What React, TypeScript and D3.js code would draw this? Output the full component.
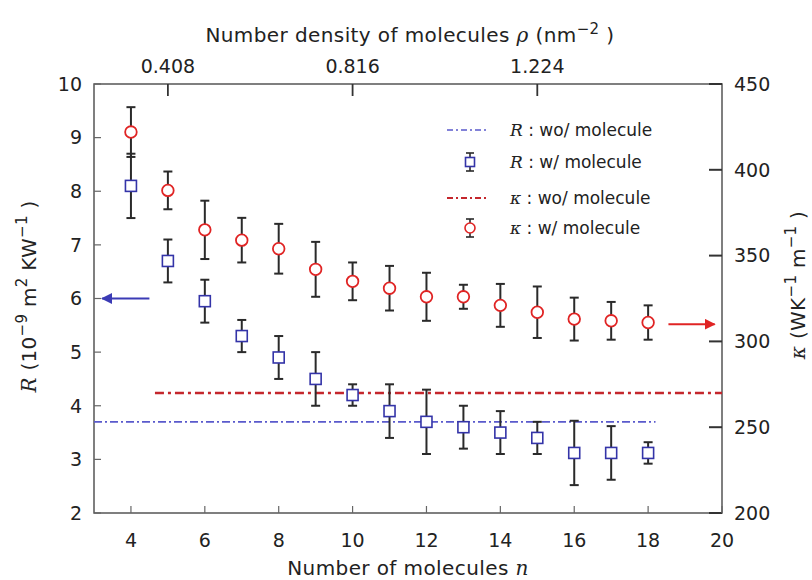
import React from "react";
import * as d3 from "d3";

const nValues = [4, 5, 6, 7, 8, 9, 10, 11, 12, 13, 14, 15, 16, 17, 18];
const rValues = [8.1, 6.7, 5.95, 5.3, 4.9, 4.5, 4.2, 3.9, 3.7, 3.6, 3.5, 3.4, 3.12, 3.12, 3.12];
const rErrors = [0.6, 0.4, 0.4, 0.3, 0.4, 0.5, 0.2, 0.5, 0.6, 0.4, 0.4, 0.3, 0.6, 0.5, 0.2];
const kValues = [422, 388, 365, 359, 354, 342, 335, 331, 326, 326, 321, 317, 313, 312, 311];
const kErrors = [14.5, 11, 17, 13, 14.5, 16, 11, 13, 14, 7, 12.5, 15, 12.5, 11, 10];
const rNoMolecule = 3.7;
const kNoMolecule = 270;
const leftTicks = [2, 3, 4, 5, 6, 7, 8, 9, 10];
const rightTicks = [200, 250, 300, 350, 400, 450];
const bottomTicks = [4, 6, 8, 10, 12, 14, 16, 18, 20];
const topTickN = [5, 10, 15];
const topTickLabels = ["0.408", "0.816", "1.224"];

const W = 812, H = 580;
const X0 = 94, X1 = 722, Y0 = 84, Y1 = 513;
const FONT = "'DejaVu Sans', sans-serif";
const SERIF = "'DejaVu Serif', serif";

export default function App() {
  const x = d3.scaleLinear().domain([3, 20]).range([X0, X1]);
  const yL = d3.scaleLinear().domain([2, 10]).range([Y1, Y0]);
  const yR = d3.scaleLinear().domain([200, 450]).range([Y1, Y0]);
  const cap = 4.5;
  const errColor = "#2a2a2a";
  const blue = "#3434a8";
  const red = "#e02424";
  const TS = 19; // tick font size
  const LS = 20; // label font size
  const SUP = 15;

  return (
    <svg width={W} height={H} style={{ position: "absolute", left: 0, top: 0, background: "#fff" }} fontFamily={FONT}>
      <defs>
        <marker id="ahBlue" viewBox="0 0 10 10" refX="9" refY="5" markerWidth="5" markerHeight="5" orient="auto">
          <path d="M0,0 L10,5 L0,10 z" fill="#3b3bb5" />
        </marker>
        <marker id="ahRed" viewBox="0 0 10 10" refX="9" refY="5" markerWidth="5" markerHeight="5" orient="auto">
          <path d="M0,0 L10,5 L0,10 z" fill="#e02424" />
        </marker>
      </defs>

      {/* frame */}
      <rect x={X0} y={Y0} width={X1 - X0} height={Y1 - Y0} fill="none" stroke="#555" strokeWidth={1.5} />

      {/* left ticks */}
      {leftTicks.map((t) => (
        <g key={"l" + t}>
          <line x1={X0} x2={X0 + 7} y1={yL(t)} y2={yL(t)} stroke="#666" strokeWidth={1.2} />
          <text x={X0 - 12} y={yL(t)} dy="0.36em" textAnchor="end" fontSize={TS} fill="#222">{t}</text>
        </g>
      ))}
      {/* right ticks */}
      {rightTicks.map((t) => (
        <g key={"r" + t}>
          <line x1={X1} x2={X1 - 13} y1={yR(t)} y2={yR(t)} stroke="#333" strokeWidth={2} />
          <text x={X1 + 12} y={yR(t)} dy="0.36em" textAnchor="start" fontSize={TS} fill="#222">{t}</text>
        </g>
      ))}
      {/* bottom ticks */}
      {bottomTicks.map((t) => (
        <g key={"b" + t}>
          <line x1={x(t)} x2={x(t)} y1={Y1} y2={Y1 - 7} stroke="#666" strokeWidth={1.2} />
          <text x={x(t)} y={Y1 + 34} textAnchor="middle" fontSize={TS} fill="#222">{t}</text>
        </g>
      ))}
      {/* top ticks */}
      {topTickN.map((t, i) => (
        <g key={"t" + t}>
          <line x1={x(t)} x2={x(t)} y1={Y0} y2={Y0 + 12} stroke="#333" strokeWidth={1.8} />
          <text x={x(t)} y={Y0 - 11} textAnchor="middle" fontSize={TS} fill="#222">{topTickLabels[i]}</text>
        </g>
      ))}

      {/* axis titles */}
      <text x={410} y={42} textAnchor="middle" fontSize={LS} fill="#222" letterSpacing={0.4}>
        Number density of molecules <tspan fontStyle="italic" fontFamily={SERIF}>ρ</tspan> (nm
        <tspan dy={-8} fontSize={SUP}>−2</tspan>
        <tspan dy={8}> )</tspan>
      </text>
      <text x={408} y={575} textAnchor="middle" fontSize={LS} fill="#222" letterSpacing={0.4}>
        Number of molecules <tspan fontStyle="italic" fontFamily={SERIF}>n</tspan>
      </text>
      <text transform={`translate(36,${(Y0 + Y1) / 2 - 2}) rotate(-90)`} textAnchor="middle" fontSize={LS} fill="#222" letterSpacing={0.3}>
        <tspan fontStyle="italic" fontFamily={SERIF}>R</tspan> (10
        <tspan dy={-9} fontSize={SUP}>−9</tspan>
        <tspan dy={9}> m</tspan>
        <tspan dy={-9} fontSize={SUP}>2</tspan>
        <tspan dy={9}> KW</tspan>
        <tspan dy={-9} fontSize={SUP}>−1</tspan>
        <tspan dy={9}> )</tspan>
      </text>
      <text transform={`translate(805,285) rotate(-90)`} textAnchor="middle" fontSize={LS} fill="#222" letterSpacing={0.3}>
        <tspan fontStyle="italic" fontFamily={SERIF}>κ</tspan> (WK
        <tspan dy={-9} fontSize={SUP}>−1</tspan>
        <tspan dy={9}> m</tspan>
        <tspan dy={-9} fontSize={SUP}>−1</tspan>
        <tspan dy={9}> )</tspan>
      </text>

      {/* reference lines */}
      <line x1={x(4.65)} x2={X1} y1={yR(kNoMolecule)} y2={yR(kNoMolecule)} stroke="#c4262c" strokeWidth={2.5} strokeDasharray="9,4,3,4" />
      <line x1={X0} x2={x(18.2)} y1={yL(rNoMolecule)} y2={yL(rNoMolecule)} stroke="#5a5acc" strokeWidth={1.6} strokeDasharray="8,3,2,3" />

      {/* arrows */}
      <line x1={x(4.5)} x2={x(3.22)} y1={yL(6)} y2={yL(6)} stroke="#3b3bb5" strokeWidth={2.2} markerEnd="url(#ahBlue)" />
      <line x1={x(18.55)} x2={x(19.8)} y1={yR(310)} y2={yR(310)} stroke="#e02424" strokeWidth={2.2} markerEnd="url(#ahRed)" />

      {/* kappa error bars */}
      {nValues.map((n, i) => {
        const cx = x(n);
        const top = yR(kValues[i] + kErrors[i]);
        const bot = yR(kValues[i] - kErrors[i]);
        return (
          <g key={"k" + n}>
            <line x1={cx} x2={cx} y1={top} y2={bot} stroke={errColor} strokeWidth={2} />
            <line x1={cx - cap} x2={cx + cap} y1={top} y2={top} stroke={errColor} strokeWidth={2} />
            <line x1={cx - cap} x2={cx + cap} y1={bot} y2={bot} stroke={errColor} strokeWidth={2} />
          </g>
        );
      })}
      {/* R error bars */}
      {nValues.map((n, i) => {
        const cx = x(n);
        const top = yL(rValues[i] + rErrors[i]);
        const bot = yL(rValues[i] - rErrors[i]);
        return (
          <g key={"re" + n}>
            <line x1={cx} x2={cx} y1={top} y2={bot} stroke={errColor} strokeWidth={2} />
            <line x1={cx - cap} x2={cx + cap} y1={top} y2={top} stroke={errColor} strokeWidth={2} />
            <line x1={cx - cap} x2={cx + cap} y1={bot} y2={bot} stroke={errColor} strokeWidth={2} />
          </g>
        );
      })}
      {nValues.map((n, i) => (
        <circle key={"kc" + n} cx={x(n)} cy={yR(kValues[i])} r={5.8} fill="#fff" stroke={red} strokeWidth={1.8} />
      ))}
      {nValues.map((n, i) => (
        <rect key={"rs" + n} x={x(n) - 5.5} y={yL(rValues[i]) - 5.5} width={11} height={11} fill="#fff" stroke={blue} strokeWidth={1.6} />
      ))}

      {/* legend */}
      <g fontSize={17} fill="#222">
        <line x1={447} x2={488} y1={130} y2={130} stroke="#5a5acc" strokeWidth={1.6} strokeDasharray="6,3,2,3" />
        <text x={510} y={130} dy="0.35em">
          <tspan fontStyle="italic" fontFamily={SERIF}>R</tspan> : wo/ molecule
        </text>

        <line x1={470} x2={470} y1={153} y2={171} stroke={errColor} strokeWidth={1.6} />
        <line x1={466} x2={474} y1={153} y2={153} stroke={errColor} strokeWidth={1.6} />
        <line x1={466} x2={474} y1={171} y2={171} stroke={errColor} strokeWidth={1.6} />
        <rect x={465.5} y={157.5} width={9} height={9} fill="#fff" stroke={blue} strokeWidth={1.6} />
        <text x={510} y={162} dy="0.35em">
          <tspan fontStyle="italic" fontFamily={SERIF}>R</tspan> : w/ molecule
        </text>

        <line x1={447} x2={488} y1={198} y2={198} stroke="#c4262c" strokeWidth={2.2} strokeDasharray="6,3,2,3" />
        <text x={510} y={198} dy="0.35em">
          <tspan fontStyle="italic" fontFamily={SERIF}>κ</tspan> : wo/ molecule
        </text>

        <line x1={470} x2={470} y1={219} y2={237} stroke={errColor} strokeWidth={1.6} />
        <line x1={466} x2={474} y1={219} y2={219} stroke={errColor} strokeWidth={1.6} />
        <line x1={466} x2={474} y1={237} y2={237} stroke={errColor} strokeWidth={1.6} />
        <circle cx={470} cy={228} r={5} fill="#fff" stroke={red} strokeWidth={1.6} />
        <text x={510} y={228} dy="0.35em">
          <tspan fontStyle="italic" fontFamily={SERIF}>κ</tspan> : w/ molecule
        </text>
      </g>
    </svg>
  );
}
